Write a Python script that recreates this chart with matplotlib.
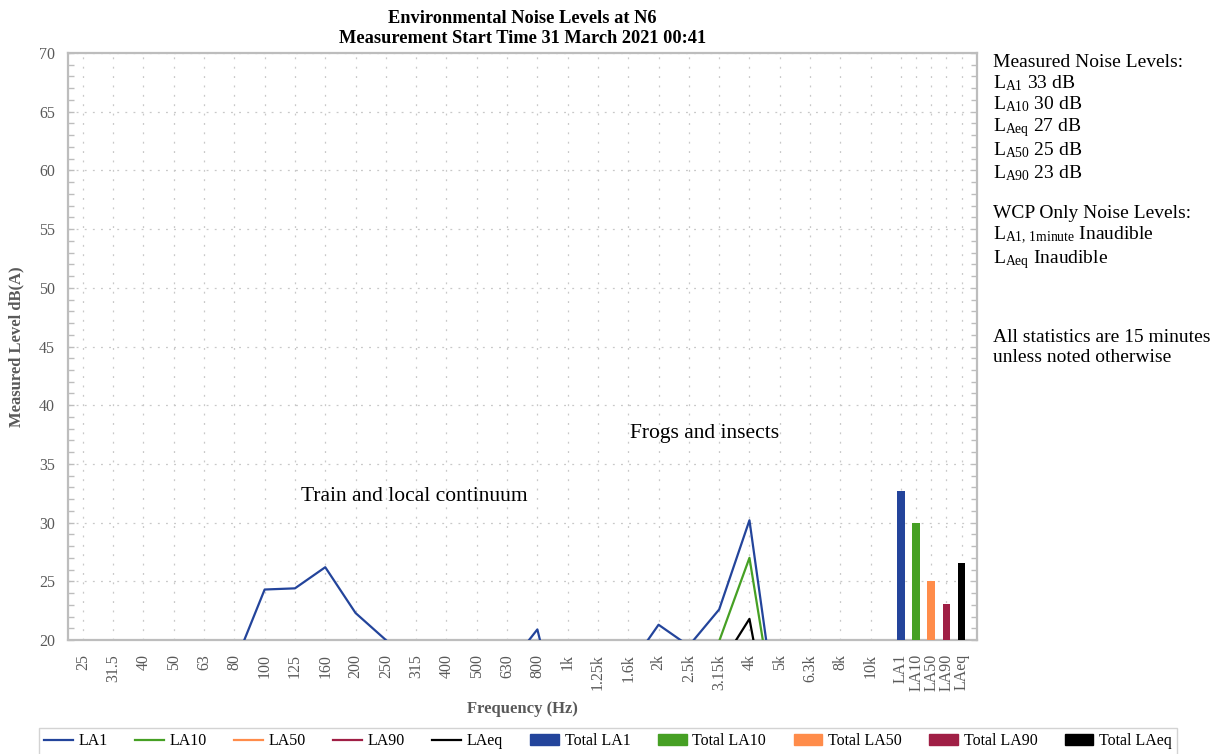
import matplotlib
matplotlib.use("Agg")
import matplotlib.pyplot as plt
from matplotlib.lines import Line2D
from matplotlib.patches import Patch
from matplotlib.ticker import MultipleLocator

# ---------------- data ----------------
freq_labels = ['25', '31.5', '40', '50', '63', '80', '100', '125', '160', '200',
               '250', '315', '400', '500', '630', '800', '1k', '1.25k', '1.6k',
               '2k', '2.5k', '3.15k', '4k', '5k', '6.3k', '8k', '10k']
total_labels = ['LA1', 'LA10', 'LA50', 'LA90', 'LAeq']

la1 = [14.0, 13.5, 14.5, 15.0, 16.0, 17.9, 24.3, 24.4, 26.2, 22.3,
       20.0, 17.5, 16.5, 16.8, 17.6, 20.9, 10.5, 13.5, 17.6,
       21.3, 19.5, 22.6, 30.2, 11.7, 12.0, 10.5, 9.0]
la10 = [11.0, 10.5, 11.5, 12.0, 13.0, 15.0, 18.5, 18.8, 19.2, 17.0,
        15.5, 13.5, 12.5, 12.8, 13.5, 15.5, 9.0, 10.5, 13.5,
        17.0, 16.0, 19.9, 27.0, 11.1, 9.5, 8.5, 7.5]
la50 = [8.0, 7.5, 8.5, 9.0, 10.0, 12.0, 14.5, 15.0, 15.5, 13.5,
        12.0, 10.5, 9.5, 9.8, 10.5, 12.0, 7.0, 8.0, 10.5,
        13.0, 12.5, 15.0, 17.5, 8.0, 7.0, 6.5, 6.0]
la90 = [6.0, 5.5, 6.5, 7.0, 8.0, 10.0, 12.5, 13.0, 13.5, 11.5,
        10.0, 8.5, 7.5, 7.8, 8.5, 10.0, 5.5, 6.5, 8.5,
        11.0, 10.5, 13.0, 15.5, 6.5, 5.5, 5.0, 4.5]
laeq = [10.0, 9.5, 10.5, 11.0, 12.0, 14.0, 17.5, 17.8, 18.5, 16.0,
        14.5, 12.5, 11.5, 11.8, 12.5, 14.5, 8.0, 9.5, 12.5,
        16.0, 15.0, 17.7, 21.8, 8.0, 8.5, 7.5, 6.5]
totals = [32.7, 30.0, 25.0, 23.1, 26.6]

title_lines = ["Environmental Noise Levels at N6", "Measurement Start Time 31 March 2021 00:41"]
measured_text = [
    "Measured Noise Levels:",
    r"L$_{\mathrm{A1}}$ 33 dB",
    r"L$_{\mathrm{A10}}$ 30 dB",
    r"L$_{\mathrm{Aeq}}$ 27 dB",
    r"L$_{\mathrm{A50}}$ 25 dB",
    r"L$_{\mathrm{A90}}$ 23 dB",
    "WCP Only Noise Levels:",
    r"L$_{\mathrm{A1,\,1minute}}$ Inaudible",
    r"L$_{\mathrm{Aeq}}$ Inaudible",
    "All statistics are 15 minutes",
    "unless noted otherwise",
]

# ---------------- style ----------------
serif = 'Liberation Serif'
plt.rcParams['font.family'] = [serif, 'DejaVu Serif']
plt.rcParams['mathtext.fontset'] = 'custom'
plt.rcParams['mathtext.rm'] = serif
plt.rcParams['mathtext.it'] = serif + ':italic'
plt.rcParams['mathtext.bf'] = serif + ':bold'

colors = ['#23449b', '#46a024', '#ff8c4a', '#a01f45', '#000000']
grid_c = '#c8c8c8'
spine_c = '#bdbdbd'
text_gray = '#595959'

fig = plt.figure(figsize=(12.16, 7.54), dpi=100)
W, H = 1216, 754
ax = fig.add_axes([67.7 / W, 1 - 640 / H, 909 / W, 587 / H])

n = len(freq_labels)
xf = list(range(n))
xt = [n + 0.5 * k for k in range(len(total_labels))]

for series, c in zip([la1, la10, la50, la90, laeq], colors):
    ax.plot(xf, series, color=c, lw=1.6, zorder=3)

ax.bar(xt, totals, width=0.25, color=colors, bottom=0, zorder=3)

ax.set_xlim(-0.5, 29.5)
ax.set_ylim(20, 70)
ax.set_xticks(xf + xt)
ax.set_xticklabels(freq_labels + total_labels, rotation=90, fontsize=11.5, color=text_gray)
ax.yaxis.set_major_locator(MultipleLocator(5))
ax.yaxis.set_minor_locator(MultipleLocator(1))
ax.tick_params(axis='y', which='both', direction='in', length=4, width=1, color=spine_c,
               left=True, right=True, labelsize=11.5, labelcolor=text_gray, pad=9)
ax.tick_params(axis='x', length=0, pad=10)

ax.grid(True, axis='x', color=grid_c, lw=0.9, linestyle=(0, (1.5, 6)))
ax.grid(True, axis='y', which='major', color=grid_c, lw=0.9, linestyle=(0, (1.5, 5)))
ax.set_axisbelow(True)
for s in ax.spines.values():
    s.set_color(spine_c)
    s.set_linewidth(1.6)

ax.set_xlabel("Frequency (Hz)", fontsize=12, fontweight='bold', color=text_gray, labelpad=7)
ax.set_ylabel("Measured Level dB(A)", fontsize=12, fontweight='bold', color=text_gray, labelpad=11)
ax.set_title("\n".join(title_lines), fontsize=13.2, fontweight='bold', pad=7, linespacing=1.22)

ax.text(7.2, 32.2, "Train and local continuum", fontsize=15.5, ha='left', va='center')
ax.text(18.06, 37.6, "Frogs and insects", fontsize=15.5, ha='left', va='center')

baselines = [67, 88, 109, 131, 155, 178, 218, 239, 263, 342, 362]
for t, yb in zip(measured_text, baselines):
    fig.text(993 / W, 1 - yb / H, t, fontsize=14, ha='left', va='baseline')

handles = [Line2D([0], [0], color=c, lw=1.6) for c in colors] + \
          [Patch(facecolor=c, edgecolor=c) for c in colors]
labels = total_labels + ['Total ' + t for t in total_labels]
leg = fig.legend(handles, labels, loc='upper center', bbox_to_anchor=(608 / W, 1 - 727.5 / H),
                 ncol=10, fontsize=11.5, frameon=True, fancybox=False, edgecolor='#c8c8c8',
                 handlelength=1.8, handletextpad=0.35, columnspacing=1.72, borderpad=0.35,
                 borderaxespad=0)
leg.get_frame().set_linewidth(1.0)

fig.savefig("out.png", dpi=100)
